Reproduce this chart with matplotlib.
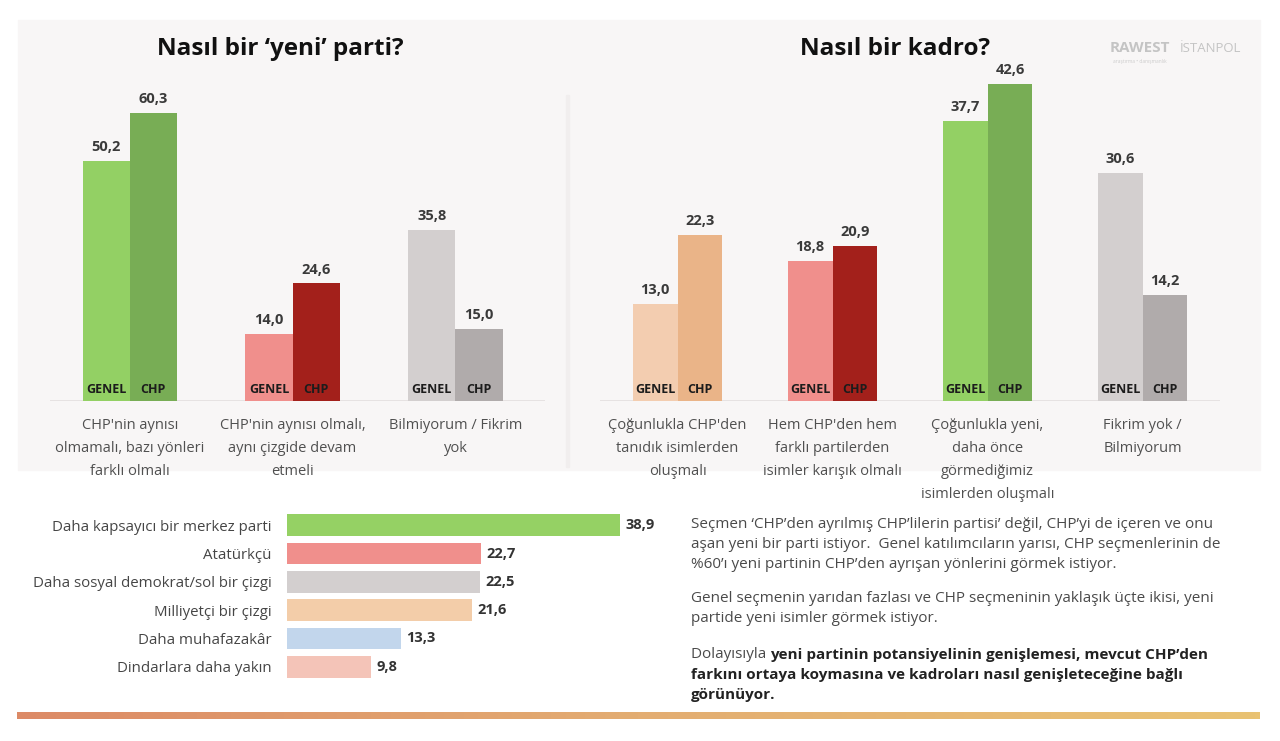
import numpy as np
import matplotlib.pyplot as plt
from matplotlib.patches import Rectangle
from matplotlib.colors import LinearSegmentedColormap

plt.rcParams['font.family'] = ['Open Sans', 'DejaVu Sans']

# --- data ---
left_cats = ["CHP'nin aynısı\nolmamalı, bazı yönleri\nfarklı olmalı",
             "CHP'nin aynısı olmalı,\naynı çizgide devam\netmeli",
             "Bilmiyorum / Fikrim\nyok"]
left_genel = [50.2, 14.0, 35.8]
left_chp = [60.3, 24.6, 15.0]
left_col_genel = ["#93d064", "#f08f8c", "#d3cfcf"]
left_col_chp = ["#78ad55", "#a3201b", "#b0abab"]

right_cats = ["Çoğunlukla CHP'den\ntanıdık isimlerden\noluşmalı",
              "Hem CHP'den hem\nfarklı partilerden\nisimler karışık olmalı",
              "Çoğunlukla yeni,\ndaha önce\ngörmediğimiz\nisimlerden oluşmalı",
              "Fikrim yok /\nBilmiyorum"]
right_genel = [13.0, 18.8, 37.7, 30.6]
right_chp = [22.3, 20.9, 42.6, 14.2]
right_col_genel = ["#f3cdb0", "#f08f8c", "#93d064", "#d3cfcf"]
right_col_chp = ["#eab488", "#a3201b", "#78ad55", "#b0abab"]

h_cats = ["Daha kapsayıcı bir merkez parti", "Atatürkçü",
          "Daha sosyal demokrat/sol bir çizgi", "Milliyetçi bir çizgi",
          "Daha muhafazakâr", "Dindarlara daha yakın"]
h_vals = [38.9, 22.7, 22.5, 21.6, 13.3, 9.8]
h_cols = ["#95d164", "#f08f8c", "#d3cfcf", "#f3cda9", "#c2d6ec", "#f4c4b8"]

W, H = 1280, 741
fig = plt.figure(figsize=(12.8, 7.41), dpi=100)
fig.patch.set_facecolor("white")


def px(l, t, w, h):
    return [l / W, 1 - (t + h) / H, w / W, h / H]


# background canvas in pixel coordinates
bg = fig.add_axes([0, 0, 1, 1])
bg.add_patch(Rectangle((18, 20), 1242, 450, color="#f8f6f6", zorder=0))
bg.add_patch(Rectangle((566, 95), 3, 372, color="#f1eeee", zorder=0))
grad = np.linspace(0, 1, 256).reshape(1, -1)
cm = LinearSegmentedColormap.from_list("g", ["#dc8a66", "#e3ad72", "#e9c272"])
bg.imshow(grad, cmap=cm, extent=(17, 1260, 719, 712), aspect="auto", zorder=1)
bg.set_xlim(0, W)
bg.set_ylim(H, 0)
bg.axis("off")

bg.text(280, 49, "Nasıl bir ‘yeni’ parti?", ha="center", va="center",
        fontsize=17.5, fontweight="bold", color="#111111")
bg.text(895, 49, "Nasıl bir kadro?", ha="center", va="center",
        fontsize=17.5, fontweight="bold", color="#111111")
bg.text(1140, 48, "RAWEST", ha="center", va="center", fontsize=11,
        fontweight="bold", color="#c4c4c4")
bg.text(1140, 61, "araştırma • danışmanlık", ha="center", va="center",
        fontsize=3.5, color="#cccccc")
bg.text(1210, 49, "İSTANPOL", ha="center", va="center", fontsize=9.5,
        color="#c4c4c4")


def grouped(rect, cats, genel, chp, cg, cc, ymax, xlim):
    ax = fig.add_axes(px(*rect))
    ax.set_facecolor("none")
    x = np.arange(len(cats))
    w = 0.29
    ax.bar(x - w / 2, genel, w, color=cg, zorder=2)
    ax.bar(x + w / 2, chp, w, color=cc, zorder=2)
    ax.set_ylim(0, ymax)
    ax.set_xlim(*xlim)
    ax.axhline(0, color="#e3dfdf", lw=1.2, zorder=1)
    for s in ax.spines.values():
        s.set_visible(False)
    ax.set_xticks([])
    ax.set_yticks([])
    for i in range(len(cats)):
        for xx, v in ((x[i] - w / 2, genel[i]), (x[i] + w / 2, chp[i])):
            ax.annotate(f"{v:.1f}".replace(".", ","), (xx, v), xytext=(0, 5),
                        textcoords="offset points", ha="center", va="bottom",
                        fontsize=10.5, fontweight="bold", color="#3a3a3a")
        ax.annotate("GENEL", (x[i] - w / 2, 0), xytext=(0, 8.5),
                    textcoords="offset points", ha="center", va="center",
                    fontsize=9, fontweight="bold", color="#1c1c1c")
        ax.annotate("CHP", (x[i] + w / 2, 0), xytext=(0, 8.5),
                    textcoords="offset points", ha="center", va="center",
                    fontsize=9, fontweight="bold", color="#1c1c1c")
        ax.annotate(cats[i], (x[i], 0), xytext=(0, -12),
                    textcoords="offset points", ha="center", va="top",
                    fontsize=10.5, color="#505050", linespacing=1.75)
    return ax


grouped((50, 90, 495, 311), left_cats, left_genel, left_chp,
        left_col_genel, left_col_chp, 65.1, (-0.49, 2.55))
grouped((600, 70, 620, 331), right_cats, right_genel, right_chp,
        right_col_genel, right_col_chp, 44.5, (-0.5, 3.5))

# horizontal bars
hx = fig.add_axes(px(287, 511, 385, 170))
hx.set_facecolor("none")
y = np.arange(len(h_cats))
hx.barh(y, h_vals, 0.77, color=h_cols)
hx.set_xlim(0, 45)
hx.set_ylim(5.5, -0.5)
for s in hx.spines.values():
    s.set_visible(False)
hx.set_xticks([])
hx.set_yticks(y)
hx.set_yticklabels(h_cats, fontsize=10.8, color="#454545")
hx.tick_params(axis="y", length=0, pad=11)
for i, v in enumerate(h_vals):
    hx.annotate(f"{v:.1f}".replace(".", ","), (v, i), xytext=(4, 0),
                textcoords="offset points", ha="left", va="center",
                fontsize=10.5, fontweight="bold", color="#333333")

# commentary text
tcol = "#4a4a4a"
fs = 11
lines = [
    (524, [("Seçmen ‘CHP’den ayrılmış CHP’lilerin partisi’ değil, CHP’yi de içeren ve onu", False)]),
    (544, [("aşan yeni bir parti istiyor.  Genel katılımcıların yarısı, CHP seçmenlerinin de", False)]),
    (564, [("%60’ı yeni partinin CHP’den ayrışan yönlerini görmek istiyor.", False)]),
    (599, [("Genel seçmenin yarıdan fazlası ve CHP seçmeninin yaklaşık üçte ikisi, yeni", False)]),
    (619, [("partide yeni isimler görmek istiyor.", False)]),
    (654, [("Dolayısıyla ", False), ("yeni partinin potansiyelinin genişlemesi, mevcut CHP’den", True)]),
    (675, [("farkını ortaya koymasına ve kadroları nasıl genişleteceğine bağlı", True)]),
    (695, [("görünüyor.", True)]),
]
for yy, segs in lines:
    prev = None
    for txt, bold in segs:
        kw = dict(fontsize=fs, color="#222222" if bold else tcol,
                  fontweight="bold" if bold else "normal")
        if prev is None:
            prev = bg.text(691, yy, txt, ha="left", va="center", **kw)
        else:
            prev = bg.annotate(txt, xy=(1, 0), xycoords=prev, ha="left",
                               va="bottom", **kw)

fig.savefig("out.png", dpi=100)
